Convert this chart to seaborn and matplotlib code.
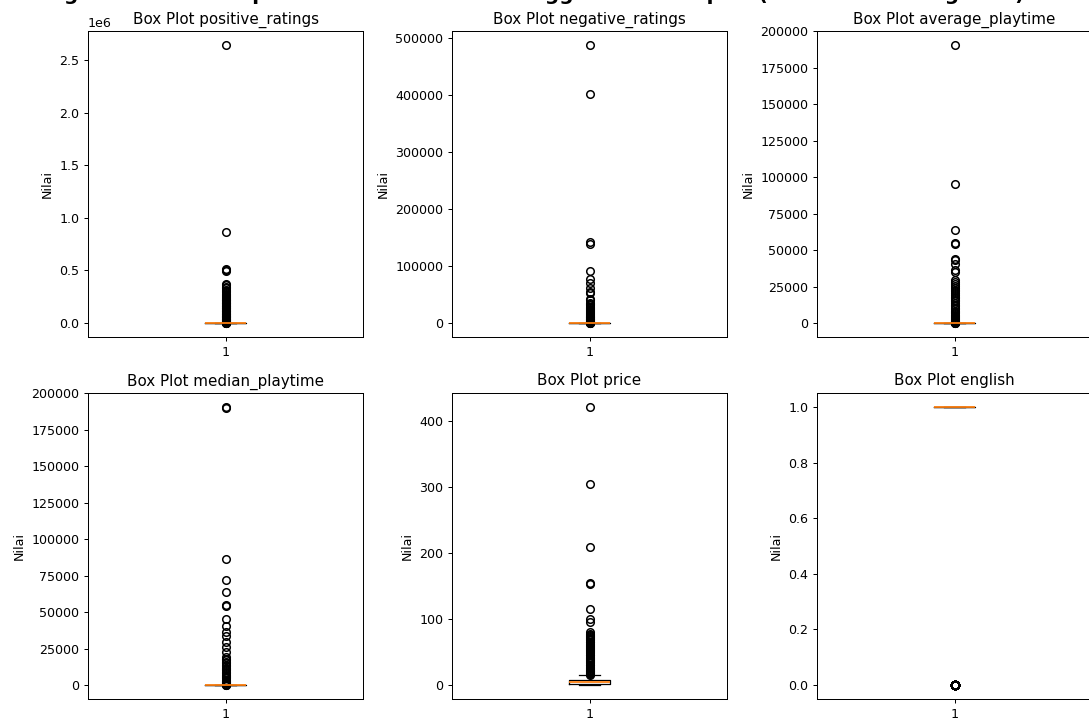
import numpy as np
import pandas as pd
import matplotlib
matplotlib.use("Agg")
import matplotlib.pyplot as plt
import seaborn as sns

columns = ["positive_ratings", "negative_ratings", "average_playtime",
           "median_playtime", "price", "english"]

# bulk of each column (value, how many rows) + the outliers
positive_core = [0, 6, 24, 126, 306]
positive_counts = [400, 400, 400, 400, 200]
positive_outliers = [2644404, 863507, 515879, 508000, 496184, 374000, 362000,
                     345000, 330000, 318000, 305000, 292000, 280000, 268000,
                     255000, 246000, 238000, 231000, 224000, 217000, 209000,
                     202000, 195000, 188000, 181000, 174000, 167000, 160000,
                     153000, 146000, 139000, 132000, 125000, 118000, 111000,
                     104000, 97000, 90000, 84000, 78000, 72000, 66000, 60000,
                     54000, 48000, 42000, 36000, 31000, 26000, 21000, 16000,
                     12000, 8000, 5000, 3000, 1500, 800, 400]

negative_core = [0, 2, 9, 42, 100]
negative_counts = [400, 400, 400, 400, 200]
negative_outliers = [487076, 401000, 142000, 138000, 92000, 78000, 70000,
                     62000, 55000, 52000, 43000, 40000, 35000, 33000, 31000,
                     29000, 27000, 25000, 23000, 21000, 19000, 17500, 16000,
                     14500, 13000, 11500, 10000, 8800, 7600, 6500, 5400, 4400,
                     3500, 2700, 2000, 1400, 900, 500, 250, 120]

average_core = [0]
average_counts = [2000]
average_outliers = [190625, 95245, 63481, 55000, 54500, 43700, 43000, 40500,
                    36400, 35000, 29500, 28000, 26800, 25500, 24300, 23000,
                    21800, 20600, 19400, 18200, 17000, 15900, 14800, 13700,
                    12600, 11500, 10500, 9500, 8500, 7600, 6700, 5800, 5000,
                    4200, 3500, 2800, 2200, 1600, 1100, 700, 350, 120, 30, 5]

median_core = [0]
median_counts = [2000]
median_outliers = [190625, 190000, 86300, 71800, 63500, 55000, 54500, 45000,
                   40200, 36700, 33300, 29800, 26400, 22900, 19500, 18000,
                   17000, 16000, 15000, 14000, 13000, 12000, 11000, 10000,
                   9000, 8000, 7000, 6200, 5400, 4600, 3800, 3100, 2400, 1800,
                   1200, 700, 300, 80, 5]

price_core = [0, 1.69, 3.99, 7.19, 14.99]
price_counts = [400, 400, 400, 400, 200]
price_outliers = [421.99, 304.99, 209.99, 154.99, 153.99, 114.99, 99.99, 95.99,
                  79.99, 77.99, 75.99, 74.99, 72.99, 70.99, 69.99, 67.99, 65.99,
                  64.99, 62.99, 60.99, 59.99, 57.99, 55.99, 54.99, 52.99, 50.99,
                  49.99, 47.99, 45.99, 44.99, 42.99, 40.99, 39.99, 37.99, 35.99,
                  34.99, 32.99, 30.99, 29.99, 27.99, 25.99, 24.99, 22.99, 21.99,
                  20.99, 19.99, 18.99, 17.99, 16.99, 15.99]

english_core = [0, 1]
english_counts = [565, 26510]
english_outliers = []

cores = [positive_core, negative_core, average_core, median_core, price_core, english_core]
counts = [positive_counts, negative_counts, average_counts, median_counts, price_counts, english_counts]
outliers = [positive_outliers, negative_outliers, average_outliers, median_outliers,
            price_outliers, english_outliers]

# 12x8-ish figure shrunk to 1089x722
DPI = 90.75
W, H = 1089, 722
fig = plt.figure(figsize=(W / DPI, H / DPI), dpi=DPI)
col_x = [88, 452, 817]
row_y = [(31, 337), (393, 699)]
ax_w = 275

fig.text(0.48, 1.0, "Pengecekan Outlier pada Kolom Numerik Menggunakan Boxplot (Sebelum Penanganan)",
         ha="center", va="baseline", fontsize=16, fontweight="bold")

for i, col in enumerate(columns):
    r, c = divmod(i, 3)
    top, bottom = row_y[r]
    ax = fig.add_axes([col_x[c] / W, 1 - bottom / H, ax_w / W, (bottom - top) / H])
    vals = np.concatenate([np.repeat(cores[i], counts[i]), np.array(outliers[i], dtype=float)])
    df = pd.DataFrame({"grp": ["1"] * len(vals), col: vals})
    sns.boxplot(data=df, x="grp", y=col, ax=ax, width=0.15, fill=False,
                color="black", linewidth=1,
                medianprops={"color": "#ff7f0e", "linewidth": 1.4, "zorder": 4},
                flierprops={"marker": "o", "markerfacecolor": "none",
                            "markeredgecolor": "black", "markersize": 6,
                            "markeredgewidth": 1.2})
    ax.set_title(f"Box Plot {col}")
    ax.set_ylabel("Nilai")
    ax.set_xlabel("")

fig.savefig("out.png", dpi=DPI)
